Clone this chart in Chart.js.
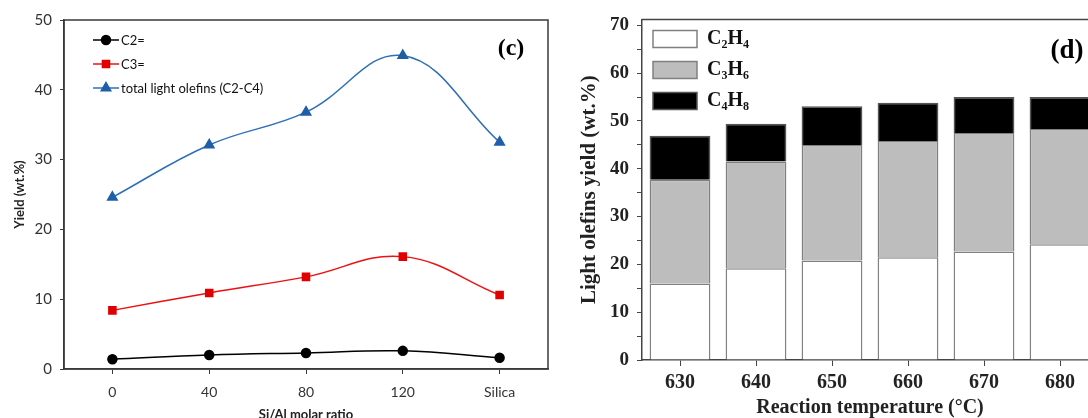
<!DOCTYPE html>
<html>
<head>
<meta charset="utf-8">
<script src="https://cdn.jsdelivr.net/npm/chart.js@4/dist/chart.umd.min.js"></script>
<style>
  html, body { margin: 0; padding: 0; background: #fff; overflow: hidden; width: 1088px; height: 418px; position: relative; }
  #caixaC { position: absolute; left: 0; top: 0; width: 560px; height: 418px; }
  #caixaD { position: absolute; left: 560px; top: 0; width: 548px; height: 418px; }
</style>
</head>
<body>
<div id="caixaC"><canvas id="graficoC"></canvas></div>
<div id="caixaD"><canvas id="graficoD"></canvas></div>
<script>
// (c) yield vs Si/Al ratio
const razoes = ['0', '40', '80', '120', 'Silica'];
const c2 = [1.4, 2.0, 2.3, 2.6, 1.6];
const c3 = [8.4, 10.9, 13.2, 16.1, 10.6];
const totalOlefinas = [24.6, 32.1, 36.8, 44.9, 32.5];

// (d) stacked yields vs temperature
const temperaturas = ['630', '640', '650', '660', '670', '680'];
const eteno = [16.0, 19.2, 20.8, 21.5, 22.7, 24.2];
const propeno = [21.7, 22.3, 24.2, 24.3, 24.8, 24.1];
const buteno = [9.2, 7.9, 8.1, 8.0, 7.5, 6.7];

Chart.defaults.animation = false;

// frame around plot area
const moldura = {
  id: 'moldura',
  afterDraw(chart, args, opts) {
    const a = chart.chartArea;
    const ctx = chart.ctx;
    ctx.save();
    ctx.strokeStyle = opts.color;
    ctx.lineWidth = 1.5;
    ctx.strokeRect(a.left, a.top, a.right - a.left, a.bottom - a.top);
    ctx.restore();
  }
};

// panel letter
const rotulo = {
  id: 'rotulo',
  afterDraw(chart, args, opts) {
    const ctx = chart.ctx;
    ctx.save();
    ctx.font = 'bold ' + opts.size + 'px "Liberation Serif"';
    ctx.fillStyle = '#000';
    ctx.textAlign = 'center';
    ctx.textBaseline = 'middle';
    ctx.fillText(opts.text, chart.chartArea.right - opts.dx, chart.chartArea.top + opts.dy);
    ctx.restore();
  }
};

// legend with line + marker, inside the plot
const legendaLinhas = {
  id: 'legendaLinhas',
  afterDraw(chart) {
    const ctx = chart.ctx;
    const x0 = chart.chartArea.left + 29;
    const y0 = chart.chartArea.top + 20;
    ctx.save();
    chart.data.datasets.forEach((ds, i) => {
      const y = y0 + i * 24;
      ctx.strokeStyle = ds.borderColor;
      ctx.lineWidth = 1.5;
      ctx.beginPath();
      ctx.moveTo(x0, y);
      ctx.lineTo(x0 + 26, y);
      ctx.stroke();
      ctx.fillStyle = ds.pointBackgroundColor;
      ctx.strokeStyle = ds.pointBackgroundColor;
      Chart.helpers.drawPoint(ctx, { pointStyle: ds.pointStyle, radius: ds.pointRadius, borderWidth: 1 }, x0 + 13, y);
      ctx.fillStyle = '#111';
      ctx.font = '13px Lato';
      ctx.textBaseline = 'middle';
      ctx.fillText(ds.label, x0 + 28, y + 1);
    });
    ctx.restore();
  }
};

const graficoC = new Chart(document.querySelector('#graficoC'), {
  type: 'line',
  data: {
    labels: razoes,
    datasets: [{
      label: 'C2=',
      data: c2,
      borderColor: '#000000',
      pointBackgroundColor: '#000000',
      pointBorderColor: '#000000',
      pointStyle: 'circle',
      pointRadius: 4.5,
      borderWidth: 1.5,
      tension: 0.4
    }, {
      label: 'C3=',
      data: c3,
      borderColor: '#ee1111',
      pointBackgroundColor: '#e00000',
      pointBorderColor: '#e00000',
      pointStyle: 'rect',
      pointRadius: 5,
      borderWidth: 1.5,
      tension: 0.4
    }, {
      label: 'total light olefins (C2-C4)',
      data: totalOlefinas,
      borderColor: '#2e6fb7',
      pointBackgroundColor: '#1f5fa8',
      pointBorderColor: '#1f5fa8',
      pointStyle: 'triangle',
      pointRadius: 5.5,
      borderWidth: 1.5,
      tension: 0.4
    }]
  },
  options: {
    responsive: true,
    maintainAspectRatio: false,
    layout: { padding: { top: 20, right: 12, left: 0, bottom: 0 } },
    plugins: {
      legend: { display: false },
      tooltip: { enabled: false },
      moldura: { color: '#3a3a3a' },
      rotulo: { text: '(c)', dx: 37, dy: 29, size: 24 }
    },
    scales: {
      x: {
        offset: true,
        grid: { drawOnChartArea: false, tickLength: 5, color: '#3a3a3a' },
        border: { color: '#3a3a3a', width: 1.5 },
        ticks: { font: { family: 'Lato', size: 14 }, color: '#333', padding: 10 },
        title: { display: true, text: 'Si/Al molar ratio', font: { family: 'Lato', size: 13, weight: 'bold', lineHeight: 1 }, color: '#222', padding: { top: 0, bottom: -3 } },
        afterFit(s) { s.height = 49; }
      },
      y: {
        min: 0,
        max: 50,
        grid: { drawOnChartArea: false, tickLength: 4, color: '#3a3a3a' },
        border: { color: '#3a3a3a', width: 1.5 },
        ticks: { stepSize: 10, font: { family: 'Lato', size: 15 }, color: '#333', padding: 8 },
        title: { display: true, text: 'Yield (wt.%)', font: { family: 'Lato', size: 13, weight: 'bold' }, color: '#222', padding: { top: 12, bottom: 0 } },
        afterFit(s) { s.width = 64; }
      }
    }
  },
  plugins: [moldura, rotulo, legendaLinhas]
});

const molduraTopo = {
  id: 'molduraTopo',
  afterDraw(chart) {
    const a = chart.chartArea;
    const ctx = chart.ctx;
    ctx.save();
    ctx.strokeStyle = '#444';
    ctx.lineWidth = 1.5;
    ctx.beginPath();
    ctx.moveTo(a.left, a.top);
    ctx.lineTo(a.right, a.top);
    ctx.lineTo(a.right, a.bottom);
    ctx.stroke();
    ctx.restore();
  }
};

const serifBold = (size, lh) => ({ family: '"Liberation Serif", "DejaVu Serif", serif', size: size, weight: 'bold', lineHeight: lh || 1.2 });

const graficoD = new Chart(document.querySelector('#graficoD'), {
  type: 'bar',
  data: {
    labels: temperaturas,
    datasets: [{
      label: 'C\u2082H\u2084',
      data: eteno,
      backgroundColor: '#ffffff',
      borderColor: '#808080',
      borderWidth: 1.5
    }, {
      label: 'C\u2083H\u2086',
      data: propeno,
      backgroundColor: '#bdbdbd',
      borderColor: '#808080',
      borderWidth: 1.5
    }, {
      label: 'C\u2084H\u2088',
      data: buteno,
      backgroundColor: '#000000',
      borderColor: '#555555',
      borderWidth: 1.5
    }]
  },
  options: {
    responsive: true,
    maintainAspectRatio: false,
    layout: { padding: { top: 18, right: 10, left: 0, bottom: 0 } },
    datasets: { bar: { barPercentage: 0.8, categoryPercentage: 1 } },
    plugins: {
      legend: {
        position: 'chartArea',
        align: 'start',
        title: { display: true, text: ' ', font: { size: 10, lineHeight: 1 }, padding: { top: 8, bottom: 0 } },
        labels: {
          boxWidth: 44,
          boxHeight: 17,
          padding: 11,
          color: '#111',
          font: serifBold(20)
        }
      },
      tooltip: { enabled: false },
      rotulo: { text: '(d)', dx: 31, dy: 32, size: 27 }
    },
    scales: {
      x: {
        stacked: true,
        grid: { drawOnChartArea: false, offset: false, tickLength: 6, color: '#444' },
        border: { color: '#444', width: 1.5 },
        ticks: { font: serifBold(20), color: '#222', padding: 5 },
        title: { display: true, text: 'Reaction temperature (\u00b0C)', font: serifBold(20, 1), color: '#222', padding: { top: 0, bottom: 0 } },
        afterFit(s) { s.height = 58; }
      },
      y: {
        stacked: true,
        min: 0,
        max: 71.25,
        grid: { drawOnChartArea: false, tickLength: 5, color: '#444' },
        border: { color: '#444', width: 1.5 },
        ticks: {
          stepSize: 5,
          includeBounds: false,
          autoSkip: false,
          font: serifBold(19),
          color: '#222',
          padding: 8,
          callback: (v) => (v % 10 === 0 ? v : '')
        },
        title: { display: true, text: 'Light olefins yield (wt.%)', font: serifBold(21), color: '#222', padding: { top: 17, bottom: 0 } },
        afterFit(s) { s.width = 82; }
      }
    }
  },
  plugins: [molduraTopo, rotulo]
});
</script>
</body>
</html>
